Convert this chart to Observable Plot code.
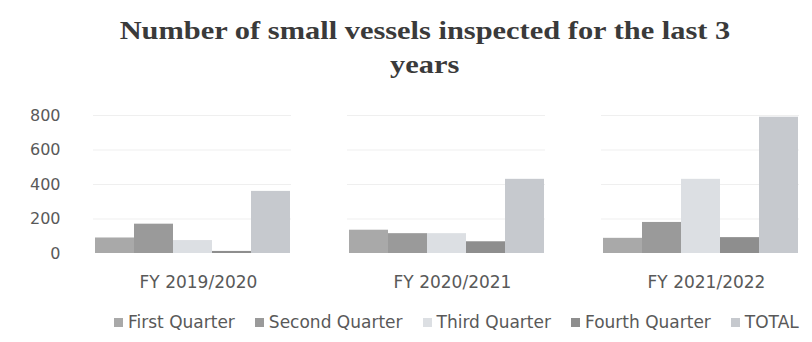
<!DOCTYPE html>
<html>
<head>
<meta charset="utf-8">
<script src="https://cdn.jsdelivr.net/npm/d3@7"></script>
<script src="https://cdn.jsdelivr.net/npm/@observablehq/plot@0.6"></script>
<style>
  html, body { margin: 0; padding: 0; background: #fff; }
  #title {
    height: 100px; box-sizing: border-box; padding-top: 14px; padding-left: 38px;
    text-align: center; font-family: "Liberation Serif", serif; font-weight: bold;
    font-size: 26px; line-height: 34px; color: #3a3a3a;
  }
  #title span { display: inline-block; transform: scaleX(1.17); transform-origin: 50% 50%; }
  #legend {
    margin-top: 19px; padding-left: 114px; display: flex; gap: 20px;
    font-family: "DejaVu Sans", sans-serif; font-size: 17px; line-height: 20px; color: #595959;
  }
  #legend span.sw { display: inline-block; width: 9px; height: 9px; margin-right: 5px; vertical-align: 1px; }
</style>
</head>
<body>
<div id="title"><span>Number of small vessels inspected for the last 3</span><br><span>years</span></div>
<div id="chart"></div>
<div id="legend"></div>
<script>
const years = ["FY 2019/2020", "FY 2020/2021", "FY 2021/2022"];
const series = ["First Quarter", "Second Quarter", "Third Quarter", "Fourth Quarter", "TOTAL"];
const firstQuarter = [90, 135, 88];
const secondQuarter = [170, 115, 180];
const thirdQuarter = [75, 115, 430];
const fourthQuarter = [12, 68, 92];
const total = [360, 430, 790];
const yTicks = [0, 200, 400, 600, 800];
const colors = ["#a9a9a9", "#9a9a9a", "#dcdfe3", "#8e8e8e", "#c6c9ce"];

const valuesBySeries = [firstQuarter, secondQuarter, thirdQuarter, fourthQuarter, total];
const data = [];
years.forEach((yr, i) => series.forEach((s, j) => data.push({year: yr, series: s, value: valuesBySeries[j][i]})));

const chart = Plot.plot({
  width: 812, height: 193,
  marginTop: 15, marginBottom: 40, marginLeft: 80, marginRight: 0,
  style: {fontFamily: "DejaVu Sans, sans-serif", fontSize: "16px", color: "#595959", background: "white"},
  fx: {domain: years, paddingInner: 0.22, paddingOuter: 0.05, label: null},
  x: {domain: series, axis: null, padding: 0},
  y: {domain: [0, 800], label: null},
  color: {domain: series, range: colors},
  marks: [
    Plot.gridY(yTicks.slice(1), {stroke: "#efefef", strokeOpacity: 1}),
    Plot.barY(data, {fx: "year", x: "series", y: "value", fill: "series"}),
    Plot.axisY({ticks: yTicks, tickSize: 0, tickPadding: 33, fontSize: 16, label: null}),
    Plot.axisFx({anchor: "bottom", tickSize: 0, tickPadding: 22, fontSize: 17, dx: 6, label: null})
  ]
});
document.getElementById("chart").appendChild(chart);

const legend = document.getElementById("legend");
series.forEach((s, i) => {
  const item = document.createElement("div");
  const sw = document.createElement("span");
  sw.className = "sw";
  sw.style.background = colors[i];
  item.appendChild(sw);
  item.appendChild(document.createTextNode(s));
  legend.appendChild(item);
});
</script>
</body>
</html>
